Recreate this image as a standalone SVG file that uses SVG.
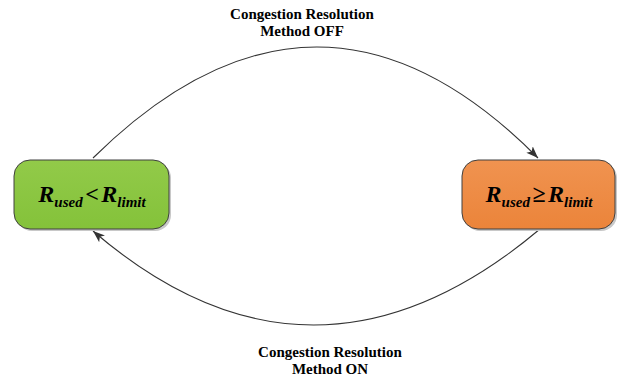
<svg xmlns="http://www.w3.org/2000/svg" width="617" height="378" viewBox="0 0 617 378">
<style>
.box{stroke:#404040;stroke-width:1}
.shadow{fill:#c8c8c8;stroke:none}
.lbl{font-family:"Liberation Serif",serif;font-weight:bold;font-size:15px;fill:#000;text-anchor:middle}
.m{font-family:"Liberation Serif",serif;font-weight:bold;font-size:24px;fill:#000;text-anchor:middle}
.it{font-style:italic}
.sub{font-style:italic;font-size:15px}
.conn{fill:none;stroke:#333;stroke-width:1.1}
</style>
<defs>
<marker id="ah" viewBox="0 0 12 9" refX="12" refY="4.5" markerWidth="12" markerHeight="9" markerUnits="userSpaceOnUse" orient="auto">
<path d="M0,0 L12,4.5 L0,9 L3,4.5 Z" fill="#333"/>
</marker>
<linearGradient id="gg" x1="0" y1="0" x2="0" y2="1">
<stop offset="0" stop-color="#92CA49"/>
<stop offset="1" stop-color="#84C23A"/>
</linearGradient>
<linearGradient id="og" x1="0" y1="0" x2="0" y2="1">
<stop offset="0" stop-color="#F09350"/>
<stop offset="1" stop-color="#EB843A"/>
</linearGradient>
</defs>
<g id="connectors">
<path class="conn" d="M93,158 Q318,-64 538,158" marker-end="url(#ah)"/>
<path class="conn" d="M540,229 Q313,420 93,231" marker-end="url(#ah)"/>
</g>
<g id="labels">
<text class="lbl" x="302" y="19">Congestion Resolution</text>
<text class="lbl" x="302" y="36">Method OFF</text>
<text class="lbl" x="330" y="357">Congestion Resolution</text>
<text class="lbl" x="330" y="374">Method ON</text>
</g>
<g id="node-low">
<rect class="shadow" x="16" y="162" width="155" height="69" rx="16"/>
<rect class="box" x="14" y="160" width="155" height="69" rx="16" fill="url(#gg)"/>
<text class="m" x="92" y="202"><tspan class="it">R</tspan><tspan class="sub" dy="5">used</tspan><tspan dy="-5" dx="2.5">&lt;</tspan><tspan class="it" dx="2.5">R</tspan><tspan class="sub" dy="5">limit</tspan></text>
</g>
<g id="node-high">
<rect class="shadow" x="464" y="162" width="153" height="69" rx="16"/>
<rect class="box" x="462" y="160" width="153" height="69" rx="16" fill="url(#og)"/>
<text class="m" x="539" y="202"><tspan class="it">R</tspan><tspan class="sub" dy="5">used</tspan><tspan dy="-5" dx="2.5">≥</tspan><tspan class="it" dx="2.5">R</tspan><tspan class="sub" dy="5">limit</tspan></text>
</g>
</svg>
